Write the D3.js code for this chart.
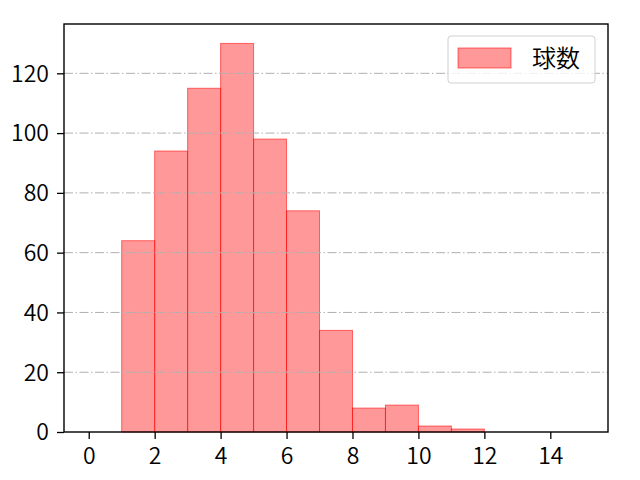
<!DOCTYPE html>
<html>
<head>
<meta charset="utf-8">
<script src="https://cdn.jsdelivr.net/npm/d3@7"></script>
<style>
body { margin: 0; background: #fff; }
text { font-family: "Noto Sans CJK JP", "DejaVu Sans", sans-serif; }
</style>
</head>
<body>
<div id="chart"></div>
<script>
// histogram bins (left edges), counts
const binStarts = [1, 2, 3, 4, 5, 6, 7, 8, 9, 10, 11];
const counts = [64, 94, 115, 130, 98, 74, 34, 8, 9, 2, 1];
const xTicks = [0, 2, 4, 6, 8, 10, 12, 14];
const yTicks = [0, 20, 40, 60, 80, 100, 120];
const seriesName = "球数";

const W = 640, H = 480;
const mLeft = 64, mRight = 608, mTop = 24, mBottom = 432;

const svg = d3.select("#chart").append("svg").attr("width", W).attr("height", H);

const x = d3.scaleLinear().domain([-0.75, 15.75]).range([mLeft, mRight]);
const y = d3.scaleLinear().domain([0, 136.5]).range([mBottom, mTop]);

// bars
svg.append("g").selectAll("rect")
    .data(binStarts)
    .join("rect")
    .attr("x", d => x(d))
    .attr("width", d => x(d + 1) - x(d))
    .attr("y", (d, i) => y(counts[i]))
    .attr("height", (d, i) => y(0) - y(counts[i]))
    .attr("fill", "rgba(255,0,0,0.4)")
    .attr("stroke", "rgba(255,0,0,0.55)")
    .attr("stroke-width", 1);

// grid on top
svg.append("g").selectAll("line")
    .data(yTicks.slice(1))
    .join("line")
    .attr("x1", mLeft).attr("x2", mRight)
    .attr("y1", d => y(d)).attr("y2", d => y(d))
    .attr("stroke", "#b0b0b0")
    .attr("stroke-width", 1)
    .attr("stroke-dasharray", "9,2.5,1.5,2.5");

// axes
const xAxis = svg.append("g").attr("transform", `translate(0,${mBottom})`)
    .call(d3.axisBottom(x).tickValues(xTicks).tickSize(7).tickPadding(7));
const yAxis = svg.append("g").attr("transform", `translate(${mLeft},0)`)
    .call(d3.axisLeft(y).tickValues(yTicks).tickSize(7).tickPadding(8));
[xAxis, yAxis].forEach(a => {
    a.select(".domain").remove();
    a.selectAll("line").attr("stroke", "#000").attr("stroke-width", 1.3);
    a.selectAll("text").attr("font-size", 23).attr("fill", "#000")
        .style("font-family", '"Noto Sans CJK JP", sans-serif')
        .style("font-weight", 350);
});
xAxis.selectAll("text").attr("dy", "0.78em");
yAxis.selectAll("text").attr("dy", "0.34em");

// frame
svg.append("rect")
    .attr("x", mLeft).attr("y", mTop)
    .attr("width", mRight - mLeft).attr("height", mBottom - mTop)
    .attr("fill", "none").attr("stroke", "#000").attr("stroke-width", 1.4);

// legend
const lg = svg.append("g").attr("transform", "translate(448,36)");
lg.append("rect").attr("width", 147).attr("height", 47).attr("rx", 3)
    .attr("fill", "rgba(255,255,255,0.8)").attr("stroke", "#d0d0d0");
lg.append("rect").attr("x", 10).attr("y", 12).attr("width", 53).attr("height", 20)
    .attr("fill", "rgba(255,0,0,0.4)").attr("stroke", "rgba(255,0,0,0.55)");
lg.append("text").attr("x", 84).attr("y", 31).attr("font-size", 24)
    .style("font-weight", 350).text(seriesName);
</script>
</body>
</html>
